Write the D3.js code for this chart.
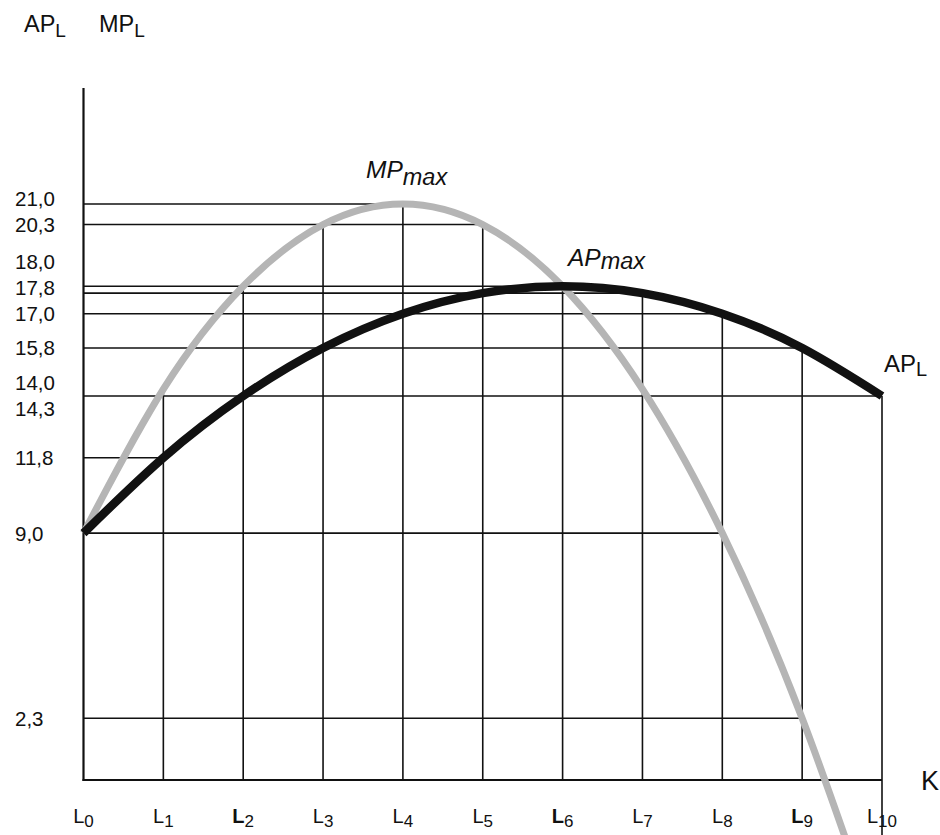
<!DOCTYPE html>
<html>
<head>
<meta charset="utf-8">
<script src="https://cdn.jsdelivr.net/npm/d3@7"></script>
<style>
  html, body { margin: 0; padding: 0; background: #fff; }
  svg { display: block; font-family: "Liberation Sans", Arial, Helvetica, sans-serif; }
</style>
</head>
<body>
<svg id="chart" width="940" height="835"></svg>
<script>
// ---- data ----
const categories = ["0", "1", "2", "3", "4", "5", "6", "7", "8", "9", "10"]; // L subscripts
const apValues = [9, 11.75, 14, 15.75, 17, 17.75, 18, 17.75, 17, 15.75, 14];
const mpValues = [9, 14.25, 18, 20.25, 21, 20.25, 18, 14.25, 9, 2.25, -6];
const gridLevels = [21, 20.25, 18, 17.75, 17, 15.75, 14, 11.75, 9, 2.25];
const yTickLabels = ["21,0", "20,3", "18,0", "17,8", "17,0", "15,8", "14,0", "14,3", "11,8", "9,0", "2,3"];
const yTickValues = [21, 20.3, 18, 17.8, 17, 15.8, 14, 14.3, 11.8, 9, 2.3];

// ---- styling constants ----
const W = 940, H = 835;
const boldTicks = new Set(["2", "6", "9"]);

const svg = d3.select("#chart");
const x = d3.scaleLinear().domain([0, categories.length - 1]).range([83.5, 882]);
const y = d3.scaleLinear().domain([0, 21]).range([780, 204]);

const gGrid = svg.append("g").attr("stroke", "#111").attr("stroke-width", 1.6).attr("fill", "none");

// horizontal grid lines: from the y axis to the last L where a curve reaches that level
gridLevels.forEach(v => {
  let end = 0;
  categories.forEach((c, i) => {
    if (Math.abs(apValues[i] - v) < 0.01 || Math.abs(mpValues[i] - v) < 0.01) end = Math.max(end, i);
  });
  gGrid.append("line")
    .attr("x1", x(0)).attr("x2", x(end))
    .attr("y1", y(v)).attr("y2", y(v));
});

// vertical grid lines: from the axis up to the higher of the two curves
categories.forEach((c, i) => {
  if (i === 0) return;
  const top = Math.max(apValues[i], mpValues[i]);
  const last = i === categories.length - 1;
  gGrid.append("line")
    .attr("x1", x(i)).attr("x2", x(i))
    .attr("y1", last ? H : y(0)).attr("y2", y(top));
});

// axes
svg.append("line").attr("x1", x(0)).attr("x2", x(0)).attr("y1", 88).attr("y2", y(0) + 1)
  .attr("stroke", "#111").attr("stroke-width", 2.2);
svg.append("line").attr("x1", x(0) - 1).attr("x2", x(categories.length - 1)).attr("y1", y(0)).attr("y2", y(0))
  .attr("stroke", "#111").attr("stroke-width", 2.2);

// curves
const line = d3.line().x((d, i) => x(i)).y(d => y(d)).curve(d3.curveNatural);
svg.append("path").datum(mpValues).attr("d", line)
  .attr("fill", "none").attr("stroke", "#b5b5b5").attr("stroke-width", 7);
svg.append("path").datum(apValues).attr("d", line)
  .attr("fill", "none").attr("stroke", "#111").attr("stroke-width", 8.5);

// y tick labels: anchor to nearest grid line, spread shared anchors, then push upward to avoid overlap
const gap = 26;
const anchors = yTickValues.map(v => gridLevels.reduce((a, b) => Math.abs(b - v) < Math.abs(a - v) ? b : a));
const pos = anchors.map(a => y(a));
const groups = d3.group(d3.range(yTickValues.length), i => anchors[i]);
groups.forEach(idx => {
  if (idx.length > 1) {
    const c = pos[idx[0]];
    idx.forEach((k, j) => { pos[k] = c + (j - (idx.length - 1) / 2) * (gap - 1); });
  }
});
for (let i = pos.length - 2; i >= 0; i--) pos[i] = Math.min(pos[i], pos[i + 1] - gap);

svg.append("g").selectAll("text").data(yTickLabels).join("text")
  .attr("x", 15).attr("y", (d, i) => pos[i]).attr("dy", "0.36em")
  .attr("font-size", 20.5).attr("fill", "#111").text(d => d);

// x tick labels
const xt = svg.append("g").selectAll("text").data(categories).join("text")
  .attr("x", (d, i) => x(i)).attr("y", 823).attr("text-anchor", "middle").attr("fill", "#111");
xt.append("tspan").attr("font-size", 20).attr("font-weight", d => boldTicks.has(d) ? "bold" : "normal").text("L");
xt.append("tspan").attr("font-size", 17).attr("dy", 4).text(d => d);

// annotations
function subText(px, py, main, sub, fs, sfs, dy, italic) {
  const t = svg.append("text").attr("x", px).attr("y", py).attr("fill", "#111")
    .attr("font-style", italic ? "italic" : "normal");
  t.append("tspan").attr("font-size", fs).text(main);
  t.append("tspan").attr("font-size", sfs).attr("dy", dy).text(sub);
}
subText(24, 32, "AP", "L", 23.5, 19, 5, false);
subText(99, 32, "MP", "L", 23.5, 19, 5, false);
subText(366, 178, "MP", "max", 24.5, 23.5, 7, true);
subText(568, 266, "AP", "max", 24.5, 23.5, 3, true);
subText(884, 372, "AP", "L", 24, 20, 4, false);
svg.append("text").attr("x", 921).attr("y", 790).attr("font-size", 27).attr("fill", "#111").text("K");
</script>
</body>
</html>
